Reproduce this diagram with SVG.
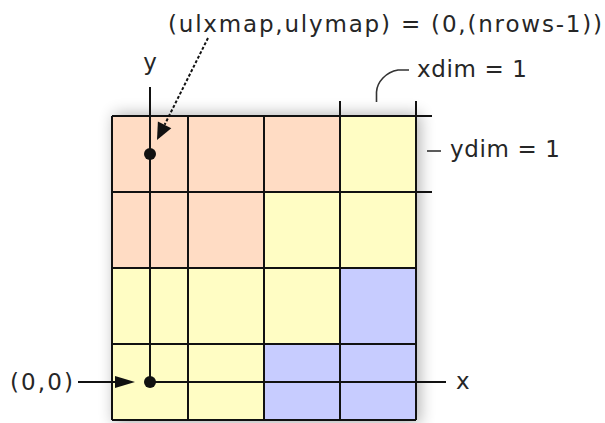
<svg xmlns="http://www.w3.org/2000/svg" width="605" height="423" viewBox="0 0 605 423">
<style>
.lbl{font-family:"DejaVu Sans",Verdana,sans-serif;font-size:23px;fill:#262626}
.pe{fill:#FFDCC4}
.ye{fill:#FFFDC4}
.bl{fill:#C7CCFF}
.gl{stroke:#111;stroke-width:2;fill:none}
.ax{stroke:#111;stroke-width:2;fill:none}
.ld{stroke:#333;stroke-width:1.6;fill:none}
</style>
<defs>
<filter id="sh" x="-20%" y="-20%" width="140%" height="140%">
<feGaussianBlur stdDeviation="8"/>
</filter>
</defs>
<rect x="0" y="0" width="605" height="423" fill="#fff"/>
<rect x="114" y="114" width="306" height="310" fill="#000" opacity="0.3" filter="url(#sh)"/>
<g id="grid">
<rect class="pe" x="112" y="116" width="76" height="76"/>
<rect class="pe" x="188" y="116" width="76" height="76"/>
<rect class="pe" x="264" y="116" width="76" height="76"/>
<rect class="ye" x="340" y="116" width="76" height="76"/>
<rect class="pe" x="112" y="192" width="76" height="76"/>
<rect class="pe" x="188" y="192" width="76" height="76"/>
<rect class="ye" x="264" y="192" width="76" height="76"/>
<rect class="ye" x="340" y="192" width="76" height="76"/>
<rect class="ye" x="112" y="268" width="76" height="76"/>
<rect class="ye" x="188" y="268" width="76" height="76"/>
<rect class="ye" x="264" y="268" width="76" height="76"/>
<rect class="bl" x="340" y="268" width="76" height="76"/>
<rect class="ye" x="112" y="344" width="76" height="76"/>
<rect class="ye" x="188" y="344" width="76" height="76"/>
<rect class="bl" x="264" y="344" width="76" height="76"/>
<rect class="bl" x="340" y="344" width="76" height="76"/>
<path class="gl" d="M112 116H432M112 192H432M112 268H416M112 344H416M112 420H416M112 116V420M188 116V420M264 116V420M340 101V420M416 101V420"/>
</g>
<g id="connectors">
<path class="ax" d="M150 87V382"/>
<path class="ax" d="M150 382H446"/>
<path class="ax" d="M78 382H117"/>
<polygon points="115,376 135,382 115,388" fill="#111"/>
<path d="M208 38L164.6 124.8" stroke="#111" stroke-width="2" stroke-dasharray="3,2" fill="none"/>
<polygon points="157,140 171.3,128.2 157.9,121.4" fill="#111"/>
<path class="ld" d="M376.5 102V92C377 82 386 72 398 70H409"/>
<path class="ld" d="M427 151H441"/>
<circle cx="150" cy="154" r="6" fill="#111"/>
<circle cx="150" cy="382" r="6" fill="#111"/>
</g>
<g id="labels">
<text class="lbl" x="168" y="32" textLength="434" lengthAdjust="spacing">(ulxmap,ulymap) = (0,(nrows-1))</text>
<text class="lbl" x="150" y="70" text-anchor="middle">y</text>
<text class="lbl" x="417" y="77" textLength="110" lengthAdjust="spacing">xdim = 1</text>
<text class="lbl" x="450" y="157" textLength="110" lengthAdjust="spacing">ydim = 1</text>
<text class="lbl" x="10" y="390" textLength="63" lengthAdjust="spacing">(0,0)</text>
<text class="lbl" x="456" y="389">x</text>
</g>
</svg>
